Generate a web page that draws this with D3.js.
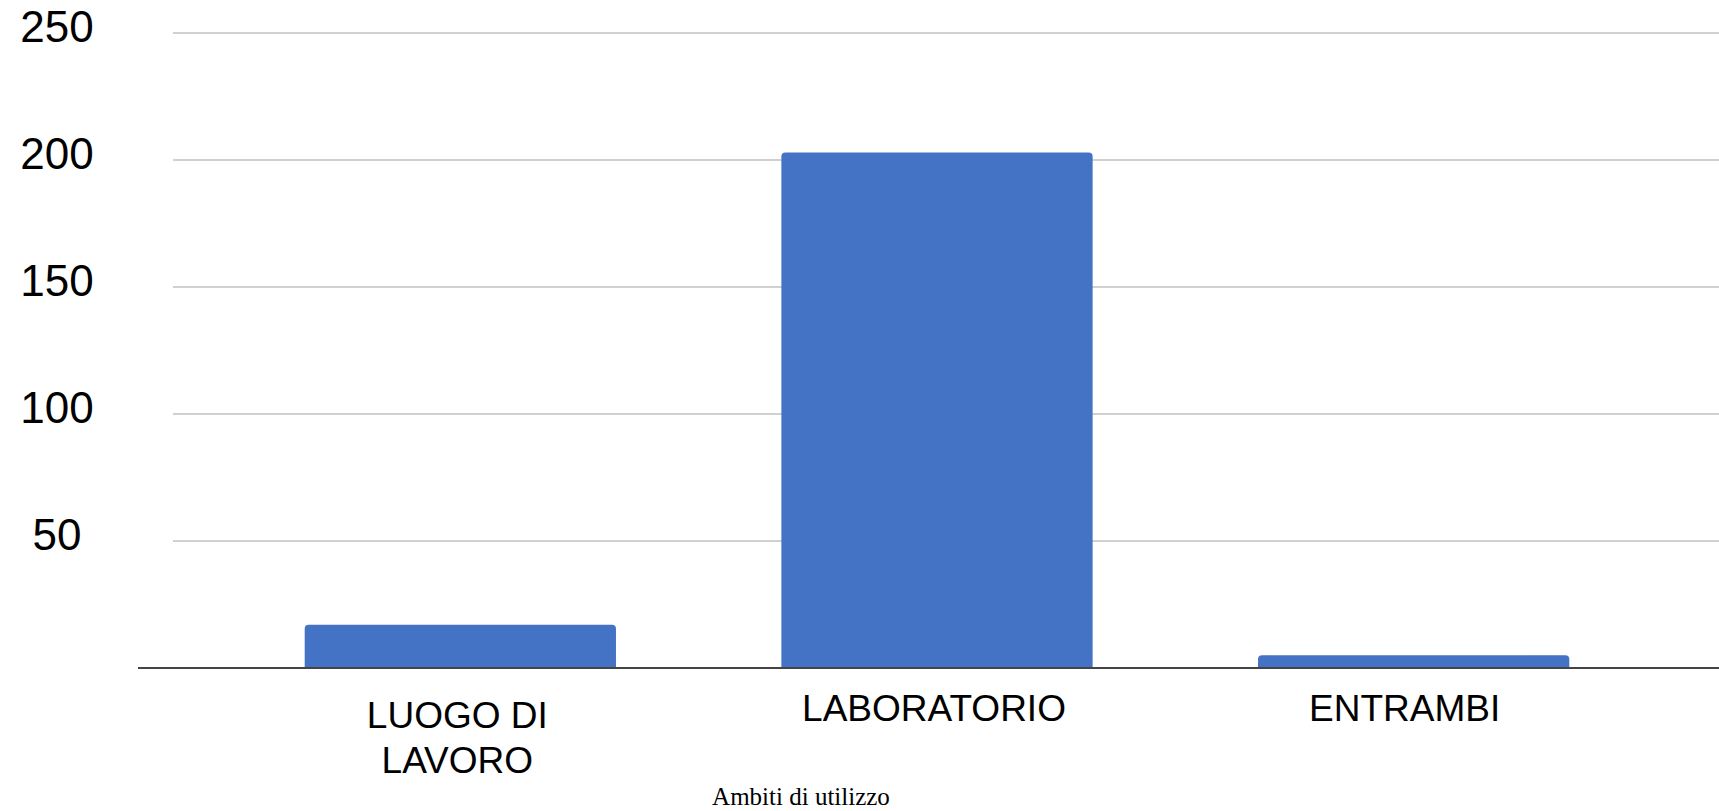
<!doctype html>
<html>
<head>
  <meta charset="utf-8">
  <script src="https://d3js.org/d3.v7.min.js"></script>
  <style>
    body {margin: 0; background: #fff;}
    .grid line {stroke: #d0d0d0; stroke-width: 2;}
    .ytick text, .xlab text {font-family: "Liberation Sans", Arial, sans-serif; fill: #000;}
  </style>
</head>
<body>
  <svg width="1719" height="811"></svg>
  <script>
    const width = 1719, height = 811

    // data
    const categories = ['LUOGO DI LAVORO', 'LABORATORIO', 'ENTRAMBI']
    const labelLines = [['LUOGO DI', 'LAVORO'], ['LABORATORIO'], ['ENTRAMBI']]
    const values = [17, 203, 5]
    const yTicks = [50, 100, 150, 200, 250]
    const title = 'Ambiti di utilizzo'

    const svg = d3.select('svg')

    const y = d3.scaleLinear().domain([0, 250]).range([668, 33])
    const x = d3.scaleBand().domain(categories)
      .range([222, 1652])
      .paddingInner(0.347)
      .paddingOuter(0.1735)

    // gridlines
    svg.append('g').attr('class', 'grid')
      .selectAll('line')
      .data(yTicks)
      .join('line')
      .attr('x1', 173)
      .attr('x2', width)
      .attr('y1', d => y(d))
      .attr('y2', d => y(d))

    // y labels
    svg.append('g').attr('class', 'ytick')
      .selectAll('text')
      .data(yTicks)
      .join('text')
      .attr('x', 57)
      .attr('y', d => y(d))
      .attr('dy', 9)
      .attr('text-anchor', 'middle')
      .attr('font-size', 44)
      .text(d => d)

    // bars with rounded top corners
    const r = 4
    svg.append('g')
      .selectAll('path')
      .data(values)
      .join('path')
      .attr('fill', '#4472c4')
      .attr('d', (d, i) => {
        const x0 = x(categories[i]), x1 = x0 + x.bandwidth()
        const y0 = y(0), y1 = y(d)
        return `M${x0},${y0}V${y1 + r}Q${x0},${y1} ${x0 + r},${y1}H${x1 - r}Q${x1},${y1} ${x1},${y1 + r}V${y0}Z`
      })

    // baseline
    svg.append('line')
      .attr('x1', 138).attr('x2', width)
      .attr('y1', y(0)).attr('y2', y(0))
      .attr('stroke', '#444').attr('stroke-width', 2)

    // x labels
    const xl = svg.append('g').attr('class', 'xlab')
      .selectAll('text')
      .data(categories)
      .join('text')
      .attr('text-anchor', 'middle')
      .attr('font-size', 37)
      .attr('x', (d, i) => x(d) + x.bandwidth() / 2 - (i === 2 ? 9 : 3))
      .attr('y', (d, i) => labelLines[i].length > 1 ? 728 : 721)
    xl.selectAll('tspan')
      .data((d, i) => labelLines[i])
      .join('tspan')
      .attr('x', function () { return this.parentNode.getAttribute('x') })
      .attr('dy', (d, j) => j ? 45 : 0)
      .text(d => d)

    // axis title
    svg.append('text')
      .attr('x', 801)
      .attr('y', 805)
      .attr('text-anchor', 'middle')
      .attr('font-family', '"Liberation Serif", "Times New Roman", serif')
      .attr('font-size', 25)
      .text(title)
  </script>
</body>
</html>
